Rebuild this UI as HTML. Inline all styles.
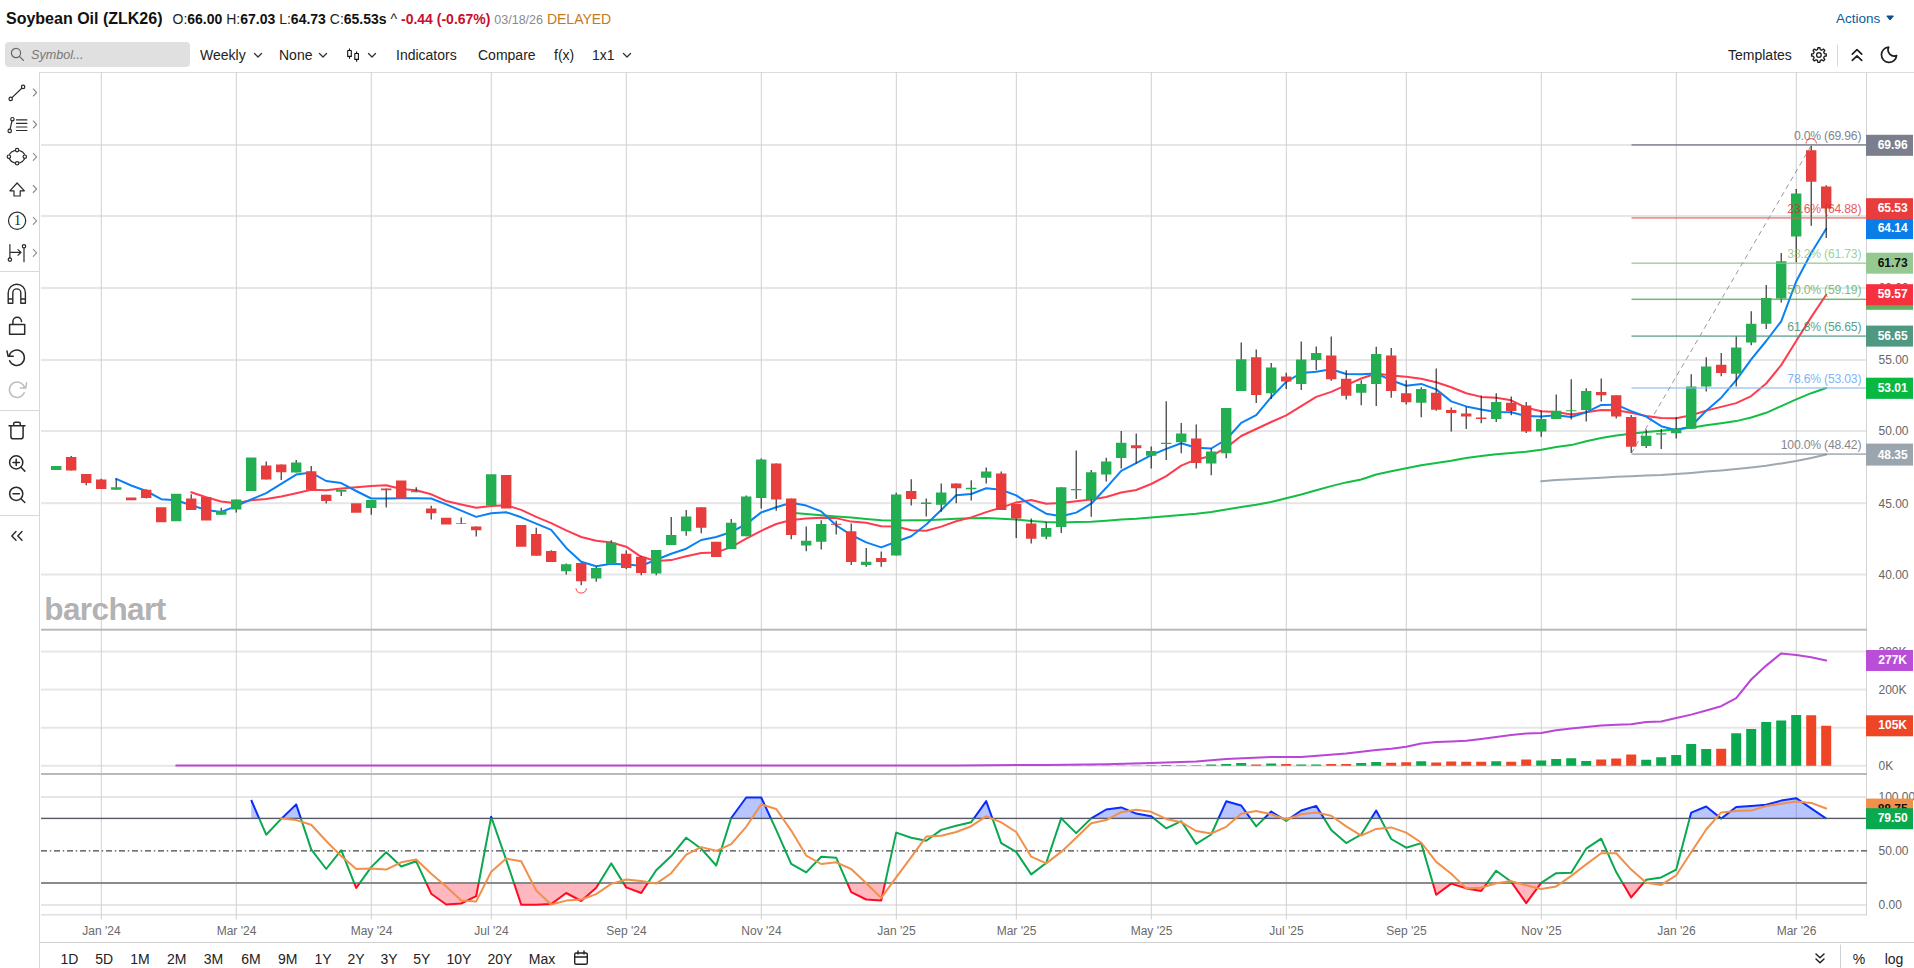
<!DOCTYPE html>
<html lang="en"><head><meta charset="utf-8"><title>Soybean Oil (ZLK26) Chart</title>
<style>
html,body{margin:0;padding:0;background:#fff}
body{width:1914px;height:968px;position:relative;overflow:hidden;font-family:"Liberation Sans",sans-serif;color:#222}
.abs{position:absolute;white-space:nowrap}
.title{left:6px;top:9px;font-size:16px;font-weight:bold;line-height:20px;color:#111;letter-spacing:0}
.ohlc{left:172.5px;top:10px;font-size:14px;line-height:18px;color:#222}
.ohlc b{font-weight:bold;color:#111}
.ohlc .neg{color:#c8102e;font-weight:bold}
.ohlc .dt{color:#8a8a8a;font-size:12.5px}
.ohlc .dl{color:#c47a1c}
.actions{left:1836px;top:10px;font-size:13.5px;line-height:18px;color:#0d5a9e}
.search{left:5px;top:42px;width:185px;height:25px;background:#e0e0e0;border-radius:4px}
.search span{position:absolute;left:26px;top:4.5px;font-size:12.6px;font-style:italic;color:#777;line-height:17px}
.tb{top:46px;font-size:14px;line-height:18px;color:#222}
.lt{left:0;top:72px;width:40px;height:896px;border-right:1px solid #d6d6d6;box-sizing:border-box;background:#fff}
.sep{position:absolute;left:0;width:40px;height:1px;background:#d9d9d9}
.rb{top:950px;font-size:14px;line-height:18px;color:#222;transform:translateX(-50%)}
.bbar{left:40px;top:942px;width:1874px;height:1px;background:#d0d0d0}
</style></head><body>
<svg width="1914" height="968" viewBox="0 0 1914 968" style="position:absolute;left:0;top:0" font-family="'Liberation Sans', sans-serif">
<defs>
<clipPath id="cpTop"><rect x="40" y="775" width="1827" height="43.4"/></clipPath>
<clipPath id="cpMid"><rect x="40" y="818.4" width="1827" height="64.5"/></clipPath>
<clipPath id="cpBot"><rect x="40" y="882.9" width="1827" height="33"/></clipPath>
</defs>
<rect x="0" y="72" width="1914" height="1" fill="#dcdcdc"/>
<rect x="41" y="144" width="1826" height="2" fill="#e6e6e6"/>
<rect x="41" y="215" width="1826" height="2" fill="#e6e6e6"/>
<rect x="41" y="287" width="1826" height="2" fill="#e6e6e6"/>
<rect x="41" y="359" width="1826" height="2" fill="#e6e6e6"/>
<rect x="41" y="430.1" width="1826" height="2" fill="#e6e6e6"/>
<rect x="41" y="502.2" width="1826" height="2" fill="#e6e6e6"/>
<rect x="41" y="573.5" width="1826" height="2" fill="#e6e6e6"/>
<rect x="41" y="650.6" width="1826" height="2" fill="#e6e6e6"/>
<rect x="41" y="688.6" width="1826" height="2" fill="#e6e6e6"/>
<rect x="41" y="726.7" width="1826" height="2" fill="#e6e6e6"/>
<rect x="41" y="764.8" width="1826" height="2" fill="#e6e6e6"/>
<rect x="41" y="796" width="1826" height="2" fill="#e6e6e6"/>
<rect x="41" y="904" width="1826" height="2" fill="#e6e6e6"/>
<rect x="41" y="914" width="1826" height="1.5" fill="#e0e0e0"/>
<rect x="100.8" y="72" width="1" height="847.5" fill="#d0d0d0"/>
<rect x="235.8" y="72" width="1" height="847.5" fill="#d0d0d0"/>
<rect x="370.8" y="72" width="1" height="847.5" fill="#d0d0d0"/>
<rect x="490.8" y="72" width="1" height="847.5" fill="#d0d0d0"/>
<rect x="625.8" y="72" width="1" height="847.5" fill="#d0d0d0"/>
<rect x="760.8" y="72" width="1" height="847.5" fill="#d0d0d0"/>
<rect x="895.8" y="72" width="1" height="847.5" fill="#d0d0d0"/>
<rect x="1015.8" y="72" width="1" height="847.5" fill="#d0d0d0"/>
<rect x="1150.8" y="72" width="1" height="847.5" fill="#d0d0d0"/>
<rect x="1285.8" y="72" width="1" height="847.5" fill="#d0d0d0"/>
<rect x="1405.8" y="72" width="1" height="847.5" fill="#d0d0d0"/>
<rect x="1540.8" y="72" width="1" height="847.5" fill="#d0d0d0"/>
<rect x="1675.8" y="72" width="1" height="847.5" fill="#d0d0d0"/>
<rect x="1795.8" y="72" width="1" height="847.5" fill="#d0d0d0"/>
<rect x="1866" y="72" width="1" height="843" fill="#d4d4d4"/>
<rect x="41" y="628.7" width="1826" height="2" fill="#b9b9b9"/>
<rect x="41" y="773" width="1826" height="2" fill="#b9b9b9"/>
<polyline points="1541.2,481.3 1556.2,480 1571.2,479.3 1586.2,478.5 1601.2,477.7 1616.2,476.8 1631.2,476.3 1646.2,475.5 1661.2,475 1676.2,474.1 1691.2,473 1706.2,471.6 1721.2,470.5 1736.2,469.1 1751.2,467.6 1766.2,465.8 1781.2,463.4 1796.2,460.9 1811.2,457.9 1826.2,454.6" fill="none" stroke="#9ea8b0" stroke-width="2" stroke-linejoin="round" stroke-linecap="round"/>
<polyline points="791.2,512.8 806.2,514.1 821.2,515.3 836.2,516.5 851.2,517.5 866.2,519 881.2,520.3 896.2,520.6 911.2,520.3 926.2,520.3 941.2,519.5 956.2,518.7 971.2,518.3 986.2,517.9 1001.2,518.8 1016.2,519.6 1031.2,520.9 1046.2,522.1 1061.2,522.4 1076.2,522.1 1091.2,521.8 1106.2,520.8 1121.2,519.6 1136.2,518.8 1151.2,517.6 1166.2,516.3 1181.2,514.9 1196.2,513.7 1211.2,512.1 1226.2,509.6 1241.2,507 1256.2,504.8 1271.2,502 1286.2,498.3 1301.2,494.5 1316.2,490.3 1331.2,486.1 1346.2,482.4 1361.2,479.5 1376.2,474.5 1391.2,471.2 1406.2,468.3 1421.2,465.2 1436.2,463.1 1451.2,460.8 1466.2,458 1481.2,455.9 1496.2,454.2 1511.2,453 1526.2,451.8 1541.2,449.7 1556.2,447 1571.2,445.1 1586.2,441.2 1601.2,437.9 1616.2,435.4 1631.2,433.7 1646.2,432 1661.2,430.8 1676.2,429.2 1691.2,427.8 1706.2,425.3 1721.2,423.3 1736.2,421.1 1751.2,417.5 1766.2,412.8 1781.2,406.1 1796.2,399.4 1811.2,393.2 1826.2,388" fill="none" stroke="#12bf44" stroke-width="2" stroke-linejoin="round" stroke-linecap="round"/>
<polyline points="191.2,492.2 206.2,497.2 221.2,501.5 236.2,503.2 251.2,500.2 266.2,499 281.2,496.5 296.2,493.2 311.2,489.8 326.2,490.2 341.2,488.5 356.2,487.3 371.2,486 386.2,485.2 401.2,489 416.2,490.2 431.2,494.3 446.2,501 461.2,504.4 476.2,507.7 491.2,506.1 506.2,505.2 521.2,509.9 536.2,516.9 551.2,523.1 566.2,530.3 581.2,537 596.2,540.8 611.2,542.5 626.2,546.7 641.2,556.8 656.2,561 671.2,560.1 686.2,556.3 701.2,552.9 716.2,552.4 731.2,547.1 746.2,538.7 761.2,530.8 776.2,524 791.2,520 806.2,518.6 821.2,517.8 836.2,518.1 851.2,521.6 866.2,522.8 881.2,526.2 896.2,526.5 911.2,530.3 926.2,530.8 941.2,526.6 956.2,521.2 971.2,517.4 986.2,512.1 1001.2,507.6 1016.2,502.4 1031.2,500 1046.2,503.7 1061.2,502.9 1076.2,501.2 1091.2,499.5 1106.2,497 1121.2,492.5 1136.2,490 1151.2,484 1166.2,476.1 1181.2,465.6 1196.2,459.4 1211.2,456.1 1226.2,447.6 1241.2,436 1256.2,429 1271.2,422 1286.2,415.3 1301.2,406.1 1316.2,396.9 1331.2,391.9 1346.2,385.2 1361.2,378.5 1376.2,373.5 1391.2,375.5 1406.2,376.8 1421.2,378.8 1436.2,382.2 1451.2,387.2 1466.2,393.2 1481.2,396.9 1496.2,397.7 1511.2,400.3 1526.2,407.8 1541.2,411.3 1556.2,411.9 1571.2,414.4 1586.2,412.3 1601.2,409.9 1616.2,410.3 1631.2,412.8 1646.2,416.1 1661.2,418.1 1676.2,418.3 1691.2,415.3 1706.2,410.6 1721.2,406.9 1736.2,403.1 1751.2,396.1 1766.2,383.5 1781.2,365.1 1796.2,341 1811.2,317.1 1826.2,294.7" fill="none" stroke="#ff3b4e" stroke-width="2" stroke-linejoin="round" stroke-linecap="round"/>
<polyline points="116.2,478.8 131.2,485.5 146.2,491 161.2,499.2 176.2,500.2 191.2,505.2 206.2,509.9 221.2,511.9 236.2,506.1 251.2,499.4 266.2,493.2 281.2,483.8 296.2,474.6 311.2,472.6 326.2,481 341.2,483.1 356.2,491 371.2,498.5 386.2,498.5 401.2,498.2 416.2,498.2 431.2,498.5 446.2,504.4 461.2,510.6 476.2,516.9 491.2,513.2 506.2,512.2 521.2,517.3 536.2,523.6 551.2,529.8 566.2,547.9 581.2,561.7 596.2,566.3 611.2,563.7 626.2,564.6 641.2,565.8 656.2,559.8 671.2,553.7 686.2,548.7 701.2,540 716.2,537 731.2,532 746.2,524.1 761.2,512.4 776.2,507.3 791.2,502.7 806.2,505.6 821.2,511.4 836.2,525.3 851.2,535 866.2,542.4 881.2,547.4 896.2,541.7 911.2,536.2 926.2,524.5 941.2,510 956.2,495.3 971.2,494 986.2,488.2 1001.2,489.8 1016.2,495.4 1031.2,505.1 1046.2,513.7 1061.2,516.3 1076.2,512.6 1091.2,503.7 1106.2,487.8 1121.2,470.8 1136.2,463.1 1151.2,455.2 1166.2,448.9 1181.2,443.2 1196.2,447.7 1211.2,448.5 1226.2,439.5 1241.2,422.8 1256.2,415.2 1271.2,397.2 1286.2,381.9 1301.2,373 1316.2,371.8 1331.2,369.3 1346.2,374 1361.2,374.3 1376.2,373.5 1391.2,380.2 1406.2,385.7 1421.2,383.9 1436.2,389.4 1451.2,401.4 1466.2,406.4 1481.2,409.4 1496.2,412 1511.2,412.3 1526.2,416.1 1541.2,416.5 1556.2,415.3 1571.2,417 1586.2,412.4 1601.2,404.9 1616.2,404.7 1631.2,411.1 1646.2,416.6 1661.2,426.2 1676.2,430.3 1691.2,426.2 1706.2,410.8 1721.2,397.7 1736.2,380.2 1751.2,359.3 1766.2,341 1781.2,321.4 1796.2,281.5 1811.2,253 1826.2,228.8" fill="none" stroke="#0a80f5" stroke-width="2" stroke-linejoin="round" stroke-linecap="round"/>
<path d="M71.2 455.9V470.4M86.2 474.1V485.2M101.2 478.8V489M116.2 478.8V489.7M146.2 489.3V498.4M191.2 494.3V509.9M221.2 507.7V514.7M236.2 499.4V512.4M266.2 461.4V479.5M281.2 464.6V480.1M296.2 460.1V472.6M311.2 465.9V489.7M326.2 494.7V503.5M341.2 489.7V496M371.2 499.9V514.7M386.2 488.5V507.4M416.2 487.3V492.3M431.2 505.7V519.4M461.2 517.4V524.1M476.2 526.6V536.5M536.2 527.8V555.7M551.2 550.3V562.1M566.2 563.6V574.6M581.2 562.9V585.2M596.2 566.8V581.8M611.2 540.3V564.1M626.2 550.4V569.1M641.2 555.8V575.2M656.2 550.1V575.3M671.2 517V545.1M686.2 509.9V535.7M701.2 507.3V533.3M731.2 519V549.1M746.2 495.6V536.2M761.2 458.4V508.6M776.2 463.4V510.8M791.2 498.6V539.2M806.2 526.5V551.2M821.2 520.3V549.6M836.2 520.8V534.5M851.2 523.6V565.1M866.2 547.9V566.8M881.2 551.6V566.8M896.2 492.7V555.4M911.2 479.3V505.6M926.2 498.6V516.5M941.2 483.5V511.8M956.2 483.5V503.3M971.2 480.3V500.4M986.2 467.4V483.6M1001.2 471.4V509.9M1016.2 504V538M1031.2 518.4V543.5M1046.2 522.1V539.3M1061.2 487.3V533M1076.2 450.5V499M1091.2 469.9V516.8M1106.2 457.7V481.6M1121.2 431V468.6M1136.2 433.5V463.6M1151.2 446.4V468.6M1166.2 401.2V459.9M1181.2 422.9V453.2M1196.2 424.6V468.6M1211.2 448.5V475.3M1226.2 407.9V458.2M1241.2 342.6V391.1M1256.2 349.6V403.1M1271.2 363.1V399.1M1286.2 372.7V389M1301.2 341.4V389.9M1316.2 346.4V370.2M1331.2 336.4V380.7M1346.2 370.2V399.4M1361.2 380.2V405.3M1376.2 346.7V406.1M1391.2 348.1V397.7M1406.2 380.2V404.4M1421.2 387.2V417.3M1436.2 368.5V410.8M1451.2 407.4V431.5M1466.2 406.9V429M1481.2 395.6V423.2M1496.2 393.2V422M1511.2 396.4V415.3M1526.2 401.9V433.1M1541.2 410.2V436.8M1556.2 394.4V419M1571.2 379.3V419.5M1586.2 388.2V421.6M1601.2 378.5V401.6M1616.2 395.2V418.6M1631.2 414.9V452.9M1646.2 429.5V447.9M1661.2 429V449.1M1676.2 417V438.4M1691.2 374.3V428.7M1706.2 357.3V391.5M1721.2 352.9V376.3M1736.2 336.2V386.4M1751.2 311.2V345.2M1766.2 285.1V329M1781.2 253V302.4M1796.2 188.9V262.3M1811.2 145.7V225.7M1826.2 185.3V238.1" stroke="#222" stroke-width="1.1" fill="none"/>
<path d="M51 465.9h10.4v4.2h-10.4zM111 487.2h10.4v2.5h-10.4zM171 493.8h10.4v27.5h-10.4zM216 511.1h10.4v3.6h-10.4zM231 499.4h10.4v10.2h-10.4zM246 457.6h10.4v33.4h-10.4zM291 462.6h10.4v10h-10.4zM336 489.7h10.4v2.1h-10.4zM366 499.9h10.4v8.2h-10.4zM411 491h10.4v1.3h-10.4zM456 523.3h10.4v0.8h-10.4zM486 474.3h10.4v31.3h-10.4zM561 564.2h10.4v7.1h-10.4zM591 567.9h10.4v10.6h-10.4zM606 542.5h10.4v21.6h-10.4zM651 550.1h10.4v23.3h-10.4zM666 535h10.4v10.1h-10.4zM681 516.6h10.4v14.6h-10.4zM726 522.8h10.4v26.3h-10.4zM741 496.4h10.4v39.8h-10.4zM756 459.6h10.4v38.5h-10.4zM801 540.7h10.4v4.7h-10.4zM816 524h10.4v17.7h-10.4zM861 561.8h10.4v3.3h-10.4zM891 494.4h10.4v61h-10.4zM921 502.4h10.4v1.7h-10.4zM936 492.4h10.4v12.3h-10.4zM966 487.8h10.4v1.4h-10.4zM981 471.6h10.4v6.2h-10.4zM1041 528h10.4v8.8h-10.4zM1056 487.3h10.4v39.8h-10.4zM1071 489h10.4v1.3h-10.4zM1086 472.3h10.4v27.2h-10.4zM1101 461.6h10.4v12.8h-10.4zM1116 442.7h10.4v15.4h-10.4zM1146 451h10.4v4.7h-10.4zM1161 442.7h10.4v1.3h-10.4zM1176 433.5h10.4v8.8h-10.4zM1206 451.5h10.4v12.1h-10.4zM1221 407.9h10.4v45.4h-10.4zM1236 359.3h10.4v31.8h-10.4zM1266 367.6h10.4v25.6h-10.4zM1296 359.6h10.4v24.3h-10.4zM1311 353.1h10.4v7h-10.4zM1356 384h10.4v8.7h-10.4zM1371 353.9h10.4v30h-10.4zM1416 388.9h10.4v13.9h-10.4zM1491 401.9h10.4v17.1h-10.4zM1536 419h10.4v12.5h-10.4zM1551 410.8h10.4v8.2h-10.4zM1566 410.3h10.4v1h-10.4zM1581 391h10.4v18.9h-10.4zM1641 435.7h10.4v10.2h-10.4zM1656 433.3h10.4v1.2h-10.4zM1671 429h10.4v4.2h-10.4zM1686 386.5h10.4v42.2h-10.4zM1701 366.5h10.4v19.9h-10.4zM1731 347.6h10.4v26.2h-10.4zM1746 323.8h10.4v18.8h-10.4zM1761 298.1h10.4v25.7h-10.4zM1776 261.3h10.4v37.3h-10.4zM1791 193.6h10.4v42.8h-10.4z" fill="#24ae52"/>
<path d="M66 457.1h10.4v13.3h-10.4zM81 474.1h10.4v9h-10.4zM96 479.5h10.4v9.5h-10.4zM126 497.4h10.4v2.8h-10.4zM141 489.8h10.4v8.1h-10.4zM156 507.2h10.4v15.1h-10.4zM186 498.5h10.4v11.4h-10.4zM201 496.9h10.4v23.7h-10.4zM261 465.6h10.4v13.9h-10.4zM276 464.6h10.4v7.7h-10.4zM306 471.3h10.4v18.4h-10.4zM321 494.7h10.4v6.3h-10.4zM351 503.2h10.4v9.5h-10.4zM381 488.5h10.4v1.7h-10.4zM396 480.5h10.4v18h-10.4zM426 508.6h10.4v4.6h-10.4zM441 517.8h10.4v6.6h-10.4zM471 526.6h10.4v3.7h-10.4zM501 475.1h10.4v33.5h-10.4zM516 524.9h10.4v21.8h-10.4zM531 534.1h10.4v21.6h-10.4zM546 550.9h10.4v11.2h-10.4zM576 562.9h10.4v18.4h-10.4zM621 553.7h10.4v14.2h-10.4zM636 556.8h10.4v16.2h-10.4zM696 507.3h10.4v20.5h-10.4zM711 541.7h10.4v15.4h-10.4zM771 463.4h10.4v36h-10.4zM786 498.6h10.4v36.4h-10.4zM831 523.8h10.4v1h-10.4zM846 531.2h10.4v30.9h-10.4zM876 558.1h10.4v4h-10.4zM906 491h10.4v8.1h-10.4zM951 483.5h10.4v4.7h-10.4zM996 473.6h10.4v36.3h-10.4zM1011 504h10.4v14.4h-10.4zM1026 523.4h10.4v15.4h-10.4zM1131 445.2h10.4v3h-10.4zM1191 438.5h10.4v24.6h-10.4zM1251 357.3h10.4v37.6h-10.4zM1281 376.5h10.4v5h-10.4zM1326 355.6h10.4v23.7h-10.4zM1341 378.8h10.4v16.9h-10.4zM1386 355.4h10.4v35.7h-10.4zM1401 393.2h10.4v9.1h-10.4zM1431 392.7h10.4v17.1h-10.4zM1446 410h10.4v3.1h-10.4zM1461 413.6h10.4v3h-10.4zM1476 417.5h10.4v1.6h-10.4zM1506 402.8h10.4v8.3h-10.4zM1521 405.6h10.4v25.9h-10.4zM1596 391.9h10.4v3.3h-10.4zM1611 395.2h10.4v21.4h-10.4zM1626 417h10.4v29.7h-10.4zM1716 364.8h10.4v8.2h-10.4zM1806 150.2h10.4v31.6h-10.4zM1821 186.5h10.4v22.1h-10.4z" fill="#e83d3d"/>
<path d="M576 588.3a5.2 4.8 0 0 0 10.4 0" fill="none" stroke="#f04545" stroke-width="1"/>
<path d="M1806 143.4a5.2 4.8 0 0 1 10.4 0" fill="none" stroke="#f04545" stroke-width="1"/>
<g opacity="0.75">
<rect x="1631.5" y="144.15" width="235" height="1.5" fill="#636777"/>
<rect x="1631.5" y="217.15" width="235" height="1.5" fill="#eb5656"/>
<rect x="1631.5" y="262.45" width="235" height="1.5" fill="#88c483"/>
<rect x="1631.5" y="298.55" width="235" height="1.5" fill="#48a246"/>
<rect x="1631.5" y="335.35" width="235" height="1.5" fill="#46937c"/>
<rect x="1631.5" y="387.25" width="235" height="1.5" fill="#8cbaf2"/>
<rect x="1631.5" y="453.35" width="235" height="1.5" fill="#888e98"/>
<text x="1861.3" y="140.0" text-anchor="end" font-size="12.2" letter-spacing="-0.2" fill="#565a6a">0.0% (69.96)</text>
<text x="1861.3" y="213.0" text-anchor="end" font-size="12.2" letter-spacing="-0.2" fill="#e0232a">23.6% (64.88)</text>
<text x="1861.3" y="258.3" text-anchor="end" font-size="12.2" letter-spacing="-0.2" fill="#7fbf7a">38.2% (61.73)</text>
<text x="1861.3" y="294.40000000000003" text-anchor="end" font-size="12.2" letter-spacing="-0.2" fill="#52a74f">50.0% (59.19)</text>
<text x="1861.3" y="331.20000000000005" text-anchor="end" font-size="12.2" letter-spacing="-0.2" fill="#237f64">61.8% (56.65)</text>
<text x="1861.3" y="383.1" text-anchor="end" font-size="12.2" letter-spacing="-0.2" fill="#589bee">78.6% (53.03)</text>
<text x="1861.3" y="449.20000000000005" text-anchor="end" font-size="12.2" letter-spacing="-0.2" fill="#5c606a">100.0% (48.42)</text>
<line x1="1631.5" y1="453" x2="1811" y2="146" stroke="#777" stroke-width="1" stroke-dasharray="5,4"/>
</g>
<path d="M1041.2 765.5h10v0.3h-10zM1056.2 765.5h10v0.3h-10zM1071.2 765.5h10v0.3h-10zM1086.2 765.5h10v0.3h-10zM1101.2 765.4h10v0.4h-10zM1116.2 765.4h10v0.4h-10zM1146.2 765.3h10v0.5h-10zM1161.2 765h10v0.8h-10zM1176.2 765.2h10v0.6h-10zM1206.2 764.5h10v1.3h-10zM1221.2 764h10v1.8h-10zM1236.2 763h10v2.8h-10zM1266.2 763.4h10v2.4h-10zM1296.2 764.4h10v1.4h-10zM1311.2 764.4h10v1.4h-10zM1356.2 762.9h10v2.9h-10zM1371.2 762h10v3.8h-10zM1416.2 761.2h10v4.6h-10zM1491.2 761.2h10v4.6h-10zM1536.2 760.5h10v5.3h-10zM1551.2 758.9h10v6.9h-10zM1566.2 758.2h10v7.6h-10zM1581.2 761h10v4.8h-10zM1641.2 759.7h10v6.1h-10zM1656.2 757.2h10v8.6h-10zM1671.2 754.9h10v10.9h-10zM1686.2 744h10v21.8h-10zM1701.2 749h10v16.8h-10zM1731.2 733.3h10v32.5h-10zM1746.2 729h10v36.8h-10zM1761.2 722.1h10v43.7h-10zM1776.2 720.6h10v45.2h-10zM1791.2 715h10v50.8h-10z" fill="#0aa84f"/>
<path d="M1131.2 765.4h10v0.4h-10zM1191.2 765.2h10v0.6h-10zM1251.2 764.5h10v1.3h-10zM1281.2 764h10v1.8h-10zM1326.2 763.9h10v1.9h-10zM1341.2 763.9h10v1.9h-10zM1386.2 762.8h10v3h-10zM1401.2 762.2h10v3.6h-10zM1431.2 762.5h10v3.3h-10zM1446.2 761.5h10v4.3h-10zM1461.2 761.7h10v4.1h-10zM1476.2 761.7h10v4.1h-10zM1506.2 761.7h10v4.1h-10zM1521.2 759.5h10v6.3h-10zM1596.2 759.5h10v6.3h-10zM1611.2 758.4h10v7.4h-10zM1626.2 754.4h10v11.4h-10zM1716.2 748.8h10v17h-10zM1806.2 715.3h10v50.5h-10zM1821.2 725.7h10v40.1h-10z" fill="#ee4526"/>
<polyline points="176.2,765.5 956.2,765.4 1046.2,764.9 1106.2,764.2 1151.2,763 1196.2,761.5 1226.2,758.9 1271.2,757 1301.2,757 1346.2,753.6 1376.2,750.1 1391.2,748.8 1406.2,746.8 1421.2,743.5 1436.2,742 1451.2,741.5 1466.2,740.7 1481.2,738.9 1496.2,736.9 1511.2,735.1 1526.2,733.6 1541.2,733.1 1556.2,730.3 1571.2,728.5 1586.2,727 1601.2,725.5 1616.2,724.7 1631.2,724.2 1646.2,721.9 1661.2,721.4 1676.2,718.1 1691.2,714.6 1706.2,710.5 1721.2,706.2 1736.2,698.1 1751.2,679.5 1766.2,665.6 1781.2,653.4 1796.2,654.9 1811.2,657.2 1826.2,660.6" fill="none" stroke="#b946d6" stroke-width="2" stroke-linejoin="round" stroke-linecap="round"/>
<polygon points="251.2,818.4 251.2,800 266.2,834.7 281.2,818.9 296.2,804.4 311.2,849.4 326.2,869 341.2,850.2 356.2,888 371.2,867.1 386.2,852.3 401.2,866.5 416.2,861.3 431.2,893.7 446.2,904.5 461.2,903.5 476.2,896.2 491.2,816.8 506.2,859.8 521.2,904.7 536.2,904.7 551.2,904.1 566.2,893 581.2,901 596.2,887.8 611.2,863.4 626.2,887.4 641.2,893 656.2,870.3 671.2,856.1 686.2,837.7 701.2,848.7 716.2,865.5 731.2,818 746.2,797.5 761.2,797.5 776.2,829.9 791.2,863.8 806.2,872.4 821.2,856.7 836.2,857.7 851.2,892.2 866.2,899.5 881.2,900.6 896.2,832.6 911.2,837.7 926.2,840.8 941.2,829.9 956.2,825.8 971.2,822.2 986.2,801.1 1001.2,843.1 1016.2,851.9 1031.2,874.4 1046.2,863 1061.2,818.4 1076.2,833.1 1091.2,818.4 1106.2,809.5 1121.2,807.4 1136.2,813.6 1151.2,816.3 1166.2,828.3 1181.2,821.2 1196.2,843.9 1211.2,834.5 1226.2,801.3 1241.2,805.5 1256.2,826.4 1271.2,811.5 1286.2,820.9 1301.2,810.5 1316.2,805.9 1331.2,829.9 1346.2,843.1 1361.2,834.5 1376.2,810.5 1391.2,839 1406.2,847.7 1421.2,843.1 1436.2,894.7 1451.2,883.6 1466.2,888.4 1481.2,891 1496.2,870.7 1511.2,881.8 1526.2,903.1 1541.2,882.8 1556.2,873.2 1571.2,872.8 1586.2,848.7 1601.2,838.7 1616.2,872.1 1631.2,897.4 1646.2,879.7 1661.2,877.4 1676.2,869.6 1691.2,812.6 1706.2,806.5 1721.2,818.6 1736.2,807 1751.2,806 1766.2,804.8 1781.2,800.6 1796.2,798.2 1811.2,808.3 1826.2,818.6 1826.2,818.4" fill="#0030ff" fill-opacity="0.28" clip-path="url(#cpTop)"/>
<polygon points="251.2,882.9 251.2,800 266.2,834.7 281.2,818.9 296.2,804.4 311.2,849.4 326.2,869 341.2,850.2 356.2,888 371.2,867.1 386.2,852.3 401.2,866.5 416.2,861.3 431.2,893.7 446.2,904.5 461.2,903.5 476.2,896.2 491.2,816.8 506.2,859.8 521.2,904.7 536.2,904.7 551.2,904.1 566.2,893 581.2,901 596.2,887.8 611.2,863.4 626.2,887.4 641.2,893 656.2,870.3 671.2,856.1 686.2,837.7 701.2,848.7 716.2,865.5 731.2,818 746.2,797.5 761.2,797.5 776.2,829.9 791.2,863.8 806.2,872.4 821.2,856.7 836.2,857.7 851.2,892.2 866.2,899.5 881.2,900.6 896.2,832.6 911.2,837.7 926.2,840.8 941.2,829.9 956.2,825.8 971.2,822.2 986.2,801.1 1001.2,843.1 1016.2,851.9 1031.2,874.4 1046.2,863 1061.2,818.4 1076.2,833.1 1091.2,818.4 1106.2,809.5 1121.2,807.4 1136.2,813.6 1151.2,816.3 1166.2,828.3 1181.2,821.2 1196.2,843.9 1211.2,834.5 1226.2,801.3 1241.2,805.5 1256.2,826.4 1271.2,811.5 1286.2,820.9 1301.2,810.5 1316.2,805.9 1331.2,829.9 1346.2,843.1 1361.2,834.5 1376.2,810.5 1391.2,839 1406.2,847.7 1421.2,843.1 1436.2,894.7 1451.2,883.6 1466.2,888.4 1481.2,891 1496.2,870.7 1511.2,881.8 1526.2,903.1 1541.2,882.8 1556.2,873.2 1571.2,872.8 1586.2,848.7 1601.2,838.7 1616.2,872.1 1631.2,897.4 1646.2,879.7 1661.2,877.4 1676.2,869.6 1691.2,812.6 1706.2,806.5 1721.2,818.6 1736.2,807 1751.2,806 1766.2,804.8 1781.2,800.6 1796.2,798.2 1811.2,808.3 1826.2,818.6 1826.2,882.9" fill="#ff0018" fill-opacity="0.28" clip-path="url(#cpBot)"/>
<rect x="41" y="817.7" width="1826" height="1.4" fill="#5a5a66"/>
<rect x="41" y="882" width="1826" height="2" fill="#8a8a8a"/>
<line x1="41" y1="850.8" x2="1867" y2="850.8" stroke="#444" stroke-width="1.3" stroke-dasharray="6,2.8,1.4,2.8"/>
<polyline points="251.2,800 266.2,834.7 281.2,818.9 296.2,804.4 311.2,849.4 326.2,869 341.2,850.2 356.2,888 371.2,867.1 386.2,852.3 401.2,866.5 416.2,861.3 431.2,893.7 446.2,904.5 461.2,903.5 476.2,896.2 491.2,816.8 506.2,859.8 521.2,904.7 536.2,904.7 551.2,904.1 566.2,893 581.2,901 596.2,887.8 611.2,863.4 626.2,887.4 641.2,893 656.2,870.3 671.2,856.1 686.2,837.7 701.2,848.7 716.2,865.5 731.2,818 746.2,797.5 761.2,797.5 776.2,829.9 791.2,863.8 806.2,872.4 821.2,856.7 836.2,857.7 851.2,892.2 866.2,899.5 881.2,900.6 896.2,832.6 911.2,837.7 926.2,840.8 941.2,829.9 956.2,825.8 971.2,822.2 986.2,801.1 1001.2,843.1 1016.2,851.9 1031.2,874.4 1046.2,863 1061.2,818.4 1076.2,833.1 1091.2,818.4 1106.2,809.5 1121.2,807.4 1136.2,813.6 1151.2,816.3 1166.2,828.3 1181.2,821.2 1196.2,843.9 1211.2,834.5 1226.2,801.3 1241.2,805.5 1256.2,826.4 1271.2,811.5 1286.2,820.9 1301.2,810.5 1316.2,805.9 1331.2,829.9 1346.2,843.1 1361.2,834.5 1376.2,810.5 1391.2,839 1406.2,847.7 1421.2,843.1 1436.2,894.7 1451.2,883.6 1466.2,888.4 1481.2,891 1496.2,870.7 1511.2,881.8 1526.2,903.1 1541.2,882.8 1556.2,873.2 1571.2,872.8 1586.2,848.7 1601.2,838.7 1616.2,872.1 1631.2,897.4 1646.2,879.7 1661.2,877.4 1676.2,869.6 1691.2,812.6 1706.2,806.5 1721.2,818.6 1736.2,807 1751.2,806 1766.2,804.8 1781.2,800.6 1796.2,798.2 1811.2,808.3 1826.2,818.6" fill="none" stroke="#0a2cff" stroke-width="2" stroke-linejoin="round" clip-path="url(#cpTop)"/>
<polyline points="251.2,800 266.2,834.7 281.2,818.9 296.2,804.4 311.2,849.4 326.2,869 341.2,850.2 356.2,888 371.2,867.1 386.2,852.3 401.2,866.5 416.2,861.3 431.2,893.7 446.2,904.5 461.2,903.5 476.2,896.2 491.2,816.8 506.2,859.8 521.2,904.7 536.2,904.7 551.2,904.1 566.2,893 581.2,901 596.2,887.8 611.2,863.4 626.2,887.4 641.2,893 656.2,870.3 671.2,856.1 686.2,837.7 701.2,848.7 716.2,865.5 731.2,818 746.2,797.5 761.2,797.5 776.2,829.9 791.2,863.8 806.2,872.4 821.2,856.7 836.2,857.7 851.2,892.2 866.2,899.5 881.2,900.6 896.2,832.6 911.2,837.7 926.2,840.8 941.2,829.9 956.2,825.8 971.2,822.2 986.2,801.1 1001.2,843.1 1016.2,851.9 1031.2,874.4 1046.2,863 1061.2,818.4 1076.2,833.1 1091.2,818.4 1106.2,809.5 1121.2,807.4 1136.2,813.6 1151.2,816.3 1166.2,828.3 1181.2,821.2 1196.2,843.9 1211.2,834.5 1226.2,801.3 1241.2,805.5 1256.2,826.4 1271.2,811.5 1286.2,820.9 1301.2,810.5 1316.2,805.9 1331.2,829.9 1346.2,843.1 1361.2,834.5 1376.2,810.5 1391.2,839 1406.2,847.7 1421.2,843.1 1436.2,894.7 1451.2,883.6 1466.2,888.4 1481.2,891 1496.2,870.7 1511.2,881.8 1526.2,903.1 1541.2,882.8 1556.2,873.2 1571.2,872.8 1586.2,848.7 1601.2,838.7 1616.2,872.1 1631.2,897.4 1646.2,879.7 1661.2,877.4 1676.2,869.6 1691.2,812.6 1706.2,806.5 1721.2,818.6 1736.2,807 1751.2,806 1766.2,804.8 1781.2,800.6 1796.2,798.2 1811.2,808.3 1826.2,818.6" fill="none" stroke="#0aa84f" stroke-width="2" stroke-linejoin="round" clip-path="url(#cpMid)"/>
<polyline points="251.2,800 266.2,834.7 281.2,818.9 296.2,804.4 311.2,849.4 326.2,869 341.2,850.2 356.2,888 371.2,867.1 386.2,852.3 401.2,866.5 416.2,861.3 431.2,893.7 446.2,904.5 461.2,903.5 476.2,896.2 491.2,816.8 506.2,859.8 521.2,904.7 536.2,904.7 551.2,904.1 566.2,893 581.2,901 596.2,887.8 611.2,863.4 626.2,887.4 641.2,893 656.2,870.3 671.2,856.1 686.2,837.7 701.2,848.7 716.2,865.5 731.2,818 746.2,797.5 761.2,797.5 776.2,829.9 791.2,863.8 806.2,872.4 821.2,856.7 836.2,857.7 851.2,892.2 866.2,899.5 881.2,900.6 896.2,832.6 911.2,837.7 926.2,840.8 941.2,829.9 956.2,825.8 971.2,822.2 986.2,801.1 1001.2,843.1 1016.2,851.9 1031.2,874.4 1046.2,863 1061.2,818.4 1076.2,833.1 1091.2,818.4 1106.2,809.5 1121.2,807.4 1136.2,813.6 1151.2,816.3 1166.2,828.3 1181.2,821.2 1196.2,843.9 1211.2,834.5 1226.2,801.3 1241.2,805.5 1256.2,826.4 1271.2,811.5 1286.2,820.9 1301.2,810.5 1316.2,805.9 1331.2,829.9 1346.2,843.1 1361.2,834.5 1376.2,810.5 1391.2,839 1406.2,847.7 1421.2,843.1 1436.2,894.7 1451.2,883.6 1466.2,888.4 1481.2,891 1496.2,870.7 1511.2,881.8 1526.2,903.1 1541.2,882.8 1556.2,873.2 1571.2,872.8 1586.2,848.7 1601.2,838.7 1616.2,872.1 1631.2,897.4 1646.2,879.7 1661.2,877.4 1676.2,869.6 1691.2,812.6 1706.2,806.5 1721.2,818.6 1736.2,807 1751.2,806 1766.2,804.8 1781.2,800.6 1796.2,798.2 1811.2,808.3 1826.2,818.6" fill="none" stroke="#ff0a22" stroke-width="2" stroke-linejoin="round" clip-path="url(#cpBot)"/>
<polyline points="281.2,818.4 296.2,820.1 311.2,824.7 326.2,841 341.2,856.1 356.2,869 371.2,868.6 386.2,869.6 401.2,862.3 416.2,859.6 431.2,873.8 446.2,886.4 461.2,900.4 476.2,901.4 491.2,871.7 506.2,858.6 521.2,861.3 536.2,890.5 551.2,904.5 566.2,900.6 581.2,899.5 596.2,894.1 611.2,883.9 626.2,879.5 641.2,881.1 656.2,883.6 671.2,873.2 686.2,854.6 701.2,847.1 716.2,850.8 731.2,844.1 746.2,826.8 761.2,804.4 776.2,809 791.2,830.6 806.2,855.6 821.2,864 836.2,862.3 851.2,869 866.2,883.2 881.2,897.9 896.2,877.4 911.2,857.1 926.2,836.6 941.2,835.8 956.2,832 971.2,826.2 986.2,816.3 1001.2,822.4 1016.2,832 1031.2,856.7 1046.2,863.4 1061.2,851.9 1076.2,837.7 1091.2,823.2 1106.2,820.1 1121.2,812.2 1136.2,809.7 1151.2,811.8 1166.2,818.9 1181.2,822.2 1196.2,831 1211.2,833.5 1226.2,826.8 1241.2,813.8 1256.2,811.1 1271.2,814.3 1286.2,819.5 1301.2,814.3 1316.2,812.6 1331.2,815.7 1346.2,826.4 1361.2,835.6 1376.2,828.9 1391.2,827.4 1406.2,832.6 1421.2,842.5 1436.2,861.9 1451.2,873.8 1466.2,888.4 1481.2,887.8 1496.2,883.2 1511.2,881.1 1526.2,885.3 1541.2,889.1 1556.2,886.4 1571.2,875.9 1586.2,864.4 1601.2,853.3 1616.2,853.3 1631.2,869.6 1646.2,882.8 1661.2,884.9 1676.2,875.3 1691.2,852.3 1706.2,829.5 1721.2,812.4 1736.2,811 1751.2,810.6 1766.2,806 1781.2,803.7 1796.2,801.6 1811.2,802.9 1826.2,808.5" fill="none" stroke="#f0904a" stroke-width="2" stroke-linejoin="round" stroke-linecap="round"/>
<text x="1878.5" y="149.3" font-size="12" fill="#666">70.00</text>
<text x="1878.5" y="220.3" font-size="12" fill="#666">65.00</text>
<text x="1878.5" y="292.3" font-size="12" fill="#666">60.00</text>
<text x="1878.5" y="364.3" font-size="12" fill="#666">55.00</text>
<text x="1878.5" y="435.40000000000003" font-size="12" fill="#666">50.00</text>
<text x="1878.5" y="507.5" font-size="12" fill="#666">45.00</text>
<text x="1878.5" y="578.8" font-size="12" fill="#666">40.00</text>
<text x="1878.5" y="655.9" font-size="12" fill="#666">300K</text>
<text x="1878.5" y="693.9" font-size="12" fill="#666">200K</text>
<text x="1878.5" y="732.0" font-size="12" fill="#666">100K</text>
<text x="1878.5" y="770.0999999999999" font-size="12" fill="#666">0K</text>
<text x="1878.5" y="801.3" font-size="12" fill="#666">100.00</text>
<text x="1878.5" y="855.3" font-size="12" fill="#666">50.00</text>
<text x="1878.5" y="909.3" font-size="12" fill="#666">0.00</text>
<rect x="1866" y="134.8" width="47" height="21" fill="#7b7e8c"/>
<text x="1892.7" y="148.9" font-size="12" font-weight="bold" text-anchor="middle" fill="#fff">69.96</text>
<rect x="1866" y="207.4" width="47" height="21" fill="#ef7f7f"/>
<text x="1892.7" y="221.5" font-size="12" font-weight="bold" text-anchor="middle" fill="#fff">64.88</text>
<rect x="1866" y="252.7" width="47" height="21" fill="#95c991"/>
<text x="1892.7" y="266.8" font-size="12" font-weight="bold" text-anchor="middle" fill="#111">61.73</text>
<rect x="1866" y="288.8" width="47" height="21" fill="#62b162"/>
<text x="1892.7" y="302.90000000000003" font-size="12" font-weight="bold" text-anchor="middle" fill="#fff">59.19</text>
<rect x="1866" y="325.6" width="47" height="21" fill="#4f9882"/>
<text x="1892.7" y="339.70000000000005" font-size="12" font-weight="bold" text-anchor="middle" fill="#fff">56.65</text>
<rect x="1866" y="377.7" width="47" height="21" fill="#9fc5f5"/>
<text x="1892.7" y="391.8" font-size="12" font-weight="bold" text-anchor="middle" fill="#fff">53.03</text>
<rect x="1866" y="443.6" width="47" height="21" fill="#9ca1a9"/>
<text x="1892.7" y="457.70000000000005" font-size="12" font-weight="bold" text-anchor="middle" fill="#fff">48.42</text>
<rect x="1866" y="444.6" width="47" height="21" fill="#9aa5ae"/>
<text x="1892.7" y="458.70000000000005" font-size="12" font-weight="bold" text-anchor="middle" fill="#fff">48.35</text>
<rect x="1866" y="377.8" width="47" height="21" fill="#09b83e"/>
<text x="1892.7" y="391.90000000000003" font-size="12" font-weight="bold" text-anchor="middle" fill="#fff">53.01</text>
<rect x="1866" y="284.2" width="47" height="21" fill="#f5303f"/>
<text x="1892.7" y="298.3" font-size="12" font-weight="bold" text-anchor="middle" fill="#fff">59.57</text>
<rect x="1866" y="218.1" width="47" height="21" fill="#0a7ee8"/>
<text x="1892.7" y="232.2" font-size="12" font-weight="bold" text-anchor="middle" fill="#fff">64.14</text>
<rect x="1866" y="198.2" width="47" height="21" fill="#e83d3d"/>
<text x="1892.7" y="212.29999999999998" font-size="12" font-weight="bold" text-anchor="middle" fill="#fff">65.53</text>
<rect x="1866" y="650.0" width="47" height="21" fill="#b94fd8"/>
<text x="1892.7" y="664.1" font-size="12" font-weight="bold" text-anchor="middle" fill="#fff">277K</text>
<rect x="1866" y="715.3" width="47" height="21" fill="#ee4526"/>
<text x="1892.7" y="729.4" font-size="12" font-weight="bold" text-anchor="middle" fill="#fff">105K</text>
<rect x="1866" y="798.6" width="47" height="21" fill="#f0904a"/>
<text x="1892.7" y="812.7" font-size="12" font-weight="bold" text-anchor="middle" fill="#111">88.75</text>
<rect x="1866" y="808.2" width="47" height="21" fill="#0aa84f"/>
<text x="1892.7" y="822.3000000000001" font-size="12" font-weight="bold" text-anchor="middle" fill="#fff">79.50</text>
<text x="101.5" y="934.5" font-size="12" fill="#6a6a6a" text-anchor="middle">Jan '24</text>
<text x="236.5" y="934.5" font-size="12" fill="#6a6a6a" text-anchor="middle">Mar '24</text>
<text x="371.5" y="934.5" font-size="12" fill="#6a6a6a" text-anchor="middle">May '24</text>
<text x="491.5" y="934.5" font-size="12" fill="#6a6a6a" text-anchor="middle">Jul '24</text>
<text x="626.5" y="934.5" font-size="12" fill="#6a6a6a" text-anchor="middle">Sep '24</text>
<text x="761.5" y="934.5" font-size="12" fill="#6a6a6a" text-anchor="middle">Nov '24</text>
<text x="896.5" y="934.5" font-size="12" fill="#6a6a6a" text-anchor="middle">Jan '25</text>
<text x="1016.5" y="934.5" font-size="12" fill="#6a6a6a" text-anchor="middle">Mar '25</text>
<text x="1151.5" y="934.5" font-size="12" fill="#6a6a6a" text-anchor="middle">May '25</text>
<text x="1286.5" y="934.5" font-size="12" fill="#6a6a6a" text-anchor="middle">Jul '25</text>
<text x="1406.5" y="934.5" font-size="12" fill="#6a6a6a" text-anchor="middle">Sep '25</text>
<text x="1541.5" y="934.5" font-size="12" fill="#6a6a6a" text-anchor="middle">Nov '25</text>
<text x="1676.5" y="934.5" font-size="12" fill="#6a6a6a" text-anchor="middle">Jan '26</text>
<text x="1796.5" y="934.5" font-size="12" fill="#6a6a6a" text-anchor="middle">Mar '26</text>
<text x="44.3" y="620" font-size="31.5" font-weight="bold" fill="#b2b2b2" letter-spacing="-0.6">barchart</text>
</svg>
<div class="abs title">Soybean Oil (ZLK26)</div>
<div class="abs ohlc">O:<b>66.00</b> H:<b>67.03</b> L:<b>64.73</b> C:<b>65.53s</b> ^ <span class="neg">-0.44 (-0.67%)</span> <span class="dt">03/18/26</span> <span class="dl">DELAYED</span></div>
<div class="abs actions">Actions</div>
<svg class="abs" style="left:1884px;top:14px" width="12" height="8" viewBox="0 0 12 8"><path d="M2.8 2h6.6L6.1 6z" fill="#0c4f8c" stroke="#0c4f8c" stroke-width="1" stroke-linejoin="round"/></svg>

<div class="abs search"><svg style="position:absolute;left:5px;top:5px" width="15" height="15" viewBox="0 0 15 15"><circle cx="6" cy="6" r="4.6" fill="none" stroke="#666" stroke-width="1.2"/><path d="M9.4 9.4l4 4" stroke="#666" stroke-width="1.3" stroke-linecap="round"/></svg><span>Symbol...</span></div>
<div class="abs tb" style="left:200px">Weekly</div>
<div class="abs tb" style="left:279px">None</div>
<div class="abs tb" style="left:396px">Indicators</div>
<div class="abs tb" style="left:478px">Compare</div>
<div class="abs tb" style="left:554px">f(x)</div>
<div class="abs tb" style="left:592px">1x1</div>
<div class="abs tb" style="left:1728px">Templates</div>
<svg class="abs" style="left:0;top:36px" width="1914" height="36" viewBox="0 36 1914 36" fill="none" stroke="#333" stroke-width="1.3" stroke-linecap="round" stroke-linejoin="round">
<path d="M254.5 53.5l3.5 3.5 3.5-3.5M319.5 53.5l3.5 3.5 3.5-3.5M368.5 53.5l3.5 3.5 3.5-3.5M623.5 53.5l3.5 3.5 3.5-3.5"/>
<!-- candle icon -->
<path d="M349.5 48.4v2.1M349.5 56.4v2.3M356.6 51.5v2M356.6 59.4v2.3" stroke-width="1.1" stroke="#111" stroke-linecap="butt"/>
<rect x="347.7" y="50.5" width="3.6" height="5.9" stroke-width="1.1" stroke="#111"/><rect x="354.8" y="53.5" width="3.6" height="5.9" stroke-width="1.1" stroke="#111"/>
<!-- gear -->
<g transform="translate(1818.9 55)" stroke-width="1.35" stroke="#1e1e1e"><circle r="2.3"/><path d="M-1.4 -5.4L-1.0 -7.3L1.0 -7.3L1.4 -5.4L2.8 -4.8L4.5 -5.9L5.9 -4.5L4.8 -2.8L5.4 -1.4L7.3 -1.0L7.3 1.0L5.4 1.4L4.8 2.8L5.9 4.5L4.5 5.9L2.8 4.8L1.4 5.4L1.0 7.3L-1.0 7.3L-1.4 5.4L-2.8 4.8L-4.5 5.9L-5.9 4.5L-4.8 2.8L-5.4 1.4L-7.3 1.0L-7.3 -1.0L-5.4 -1.4L-4.8 -2.8L-5.9 -4.5L-4.5 -5.9L-2.8 -4.8z"/></g>
<path d="M1837.5 45v21" stroke="#d8d8d8" stroke-width="1"/>
<path d="M1852.3 54.2l4.7-4.6 4.7 4.6M1852.3 60.4l4.7-4.6 4.7 4.6" stroke-width="1.7" stroke="#1e1e1e"/>
<path d="M1888.7 47.2A7.6 7.6 0 1 0 1896.6 55.6A6.2 6.2 0 0 1 1888.7 47.2z" stroke-width="1.7" stroke="#1e1e1e"/>
</svg>

<div class="abs lt">
<div class="sep" style="top:199px"></div><div class="sep" style="top:338px"></div><div class="sep" style="top:443px"></div>
<svg style="position:absolute;left:0;top:0" width="40" height="500" viewBox="0 72 40 500" fill="none" stroke="#2a2a2a" stroke-width="1.2" stroke-linecap="round" stroke-linejoin="round">
<g stroke="#8c8c8c" stroke-width="1.1"><path d="M33.3 89l3.3 3.5-3.3 3.5M33.3 121l3.3 3.5-3.3 3.5M33.3 153.3l3.3 3.5-3.3 3.5M33.3 185.5l3.3 3.5-3.3 3.5M33.3 217.3l3.3 3.5-3.3 3.5M33.3 249.3l3.3 3.5-3.3 3.5"/></g>
<!-- line tool -->
<circle cx="10.7" cy="98.9" r="1.7"/><circle cx="23.1" cy="86.9" r="1.7"/><path d="M12 97.6L21.8 88.2"/>
<!-- fib tool -->
<circle cx="12.4" cy="119.2" r="1.7"/><circle cx="9.7" cy="130.9" r="1.7"/><path d="M12 120.9l-1.9 8.3M16.5 119.9h10.4M16.5 123.4h10.4M16.5 127h10.4M16.5 130.5h10.4"/>
<!-- shapes tool -->
<circle cx="17.1" cy="150.1" r="1.7"/><circle cx="8.9" cy="156.7" r="1.7"/><circle cx="24.8" cy="156.7" r="1.7"/><circle cx="17.1" cy="163.3" r="1.7"/>
<path d="M19.7 150.6A8 6.6 0 0 1 24.5 154.3M24.5 159.1A8 6.6 0 0 1 19.7 162.8M14.5 162.8A8 6.6 0 0 1 9.5 159.1M9.5 154.3A8 6.6 0 0 1 14.5 150.6"/>
<!-- arrow -->
<path d="M17.1 183l7.3 7.8h-4.2v5.2h-6.2v-5.2h-4.1z"/>
<!-- circle 1 -->
<circle cx="17.1" cy="220.8" r="8.6"/>
<!-- measure -->
<path d="M9.9 244.5v13.4M24 248v13.7M11 252.4h10M18 249.6l3 2.8-3 2.8"/><circle cx="9.9" cy="259.6" r="1.7"/><circle cx="24" cy="246.3" r="1.7"/>
<!-- magnet -->
<path d="M8.2 303.2v-10.3a8.6 8.6 0 0 1 17.2 0v10.3h-4.6v-10.3a4 4 0 0 0 -8 0v10.3zM8.2 299h4.6M20.8 299h4.6" stroke-width="1.4"/>
<!-- lock -->
<path d="M9.6 324.6h15.1v9.6h-15.1zM12.9 324.6v-3a4.3 4.3 0 0 1 8.6 0" stroke-width="1.5"/>
<!-- undo -->
<path d="M9.6 360.8A7.7 7.7 0 1 0 9.2 355.9M7 350.9L8 356.2L13.2 356.3" stroke-width="1.5"/>
<!-- redo -->
<path d="M24.2 392.8A7.7 7.7 0 1 1 24.6 387.9M26.6 382.8L25.7 388L20.5 388" stroke="#bdbdbd" stroke-width="1.5"/>
<!-- trash -->
<path d="M9 425.7h16M13.7 425.4v-1.6q0-1.5 1.5-1.5h3.6q1.5 0 1.5 1.5v1.6M10.9 425.8v10.6q0 2.4 2.4 2.4h7.4q2.4 0 2.4-2.4v-10.6" stroke-width="1.5"/>
<!-- zoom in -->
<circle cx="16.2" cy="462.4" r="6.6" stroke-width="1.5"/><path d="M21 467.3l3.8 3.8M13 462.4h6.4M16.2 459.2v6.4" stroke-width="1.5"/>
<!-- zoom out -->
<circle cx="16.2" cy="493.8" r="6.6" stroke-width="1.5"/><path d="M21 498.7l3.8 3.8M13 493.8h6.4" stroke-width="1.5"/>
<!-- collapse -->
<path d="M16 531.5l-4.2 4.4 4.2 4.4M22 531.5l-4.2 4.4 4.2 4.4" stroke-width="1.4"/>
</svg>
<div class="abs" style="left:13.9px;top:140.6px;font-size:14px;line-height:16px;font-family:'Liberation Serif',serif;color:#222">1</div>
</div>

<div class="abs bbar"></div>
<div class="abs rb" style="left:69.4px">1D</div>
<div class="abs rb" style="left:104.2px">5D</div>
<div class="abs rb" style="left:140px">1M</div>
<div class="abs rb" style="left:176.7px">2M</div>
<div class="abs rb" style="left:213.5px">3M</div>
<div class="abs rb" style="left:250.9px">6M</div>
<div class="abs rb" style="left:287.8px">9M</div>
<div class="abs rb" style="left:323.1px">1Y</div>
<div class="abs rb" style="left:356px">2Y</div>
<div class="abs rb" style="left:389px">3Y</div>
<div class="abs rb" style="left:421.7px">5Y</div>
<div class="abs rb" style="left:459px">10Y</div>
<div class="abs rb" style="left:499.9px">20Y</div>
<div class="abs rb" style="left:542px">Max</div>
<div class="abs rb" style="left:1859px">%</div>
<div class="abs rb" style="left:1894px">log</div>
<svg class="abs" style="left:0;top:943px" width="1914" height="25" viewBox="0 943 1914 25" fill="none" stroke="#222" stroke-width="1.4" stroke-linecap="round" stroke-linejoin="round">
<rect x="574.7" y="953" width="12.6" height="11.3" rx="1.5"/><path d="M574.7 957h12.6M578 951v3M584 951v3"/>
<path d="M1816 954l4 3.7 4-3.7M1816 959l4 3.7 4-3.7" stroke-width="1.5"/>
<path d="M1840.5 945v23" stroke="#d0d0d0" stroke-width="1"/>
</svg>
</body></html>
